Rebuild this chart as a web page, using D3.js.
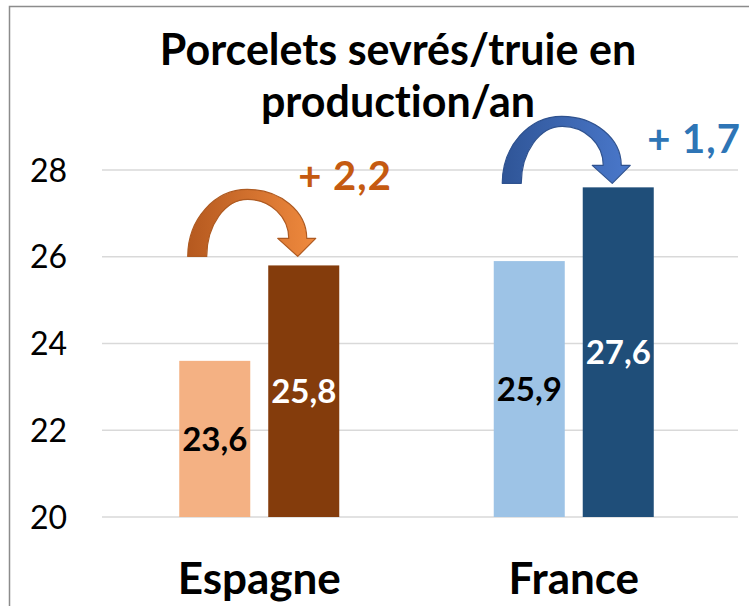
<!DOCTYPE html>
<html>
<head>
<meta charset="utf-8">
<script src="https://cdn.jsdelivr.net/npm/d3@7/dist/d3.min.js"></script>
<style>
  body { margin: 0; background: #fff; }
  text { font-family: Lato, "Open Sans", sans-serif; font-variant-ligatures: none; }
</style>
</head>
<body>
<div class="chart"></div>
<script>
var width = 749, height = 606;

/*  ======== Data ============= */
var countries = ['Espagne', 'France'];
var seriesKeys = ['avant', 'apres'];
var valuesBefore = [23.6, 25.9];
var valuesAfter = [25.8, 27.6];
var gains = ['+ 2,2', '+ 1,7'];
var yTicks = [20, 22, 24, 26, 28];
var titleLines = ['Porcelets sevrés/truie en', 'production/an'];
/*  ======== Data ============= */

var barColors = [['#F4B183', '#843C0C'], ['#9DC3E6', '#1F4E79']];
var labelColors = ['#000', '#fff'];
var gainColors = ['#C55A11', '#2E75B6'];
var arrowColors = [['#B5591F', '#F08A3E', '#AE5A21'], ['#2F5597', '#4A78CB', '#2F528F']];

var svg = d3.select('.chart').append('svg')
  .attr('width', width).attr('height', height);

svg.append('rect')
  .attr('x', 9.5).attr('y', 6.5)
  .attr('width', 780).attr('height', 640)
  .attr('fill', '#fff').attr('stroke', '#8c8c8c').attr('stroke-width', 1.5);

var plotLeft = 102, plotRight = 738;
var x = d3.scaleBand().domain(countries).range([102, 731]);
var xs = d3.scaleBand().domain(seriesKeys).range([0, x.bandwidth()]).paddingInner(0.202).paddingOuter(0.868);
var y = d3.scaleLinear().domain([20, 28]).range([517, 170]);

// title
svg.append('text')
  .attr('x', 398).attr('y', 65)
  .attr('text-anchor', 'middle')
  .attr('font-size', 43).attr('font-weight', 'bold').attr('fill', '#000')
  .selectAll('tspan').data(titleLines).enter().append('tspan')
  .attr('x', 398).attr('dy', function(d, i){ return i == 0 ? 0 : 52; })
  .text(function(d){ return d; });

// gridlines
svg.append('g').selectAll('line').data(yTicks).enter().append('line')
  .attr('x1', plotLeft).attr('x2', plotRight)
  .attr('y1', function(d){ return y(d); }).attr('y2', function(d){ return y(d); })
  .attr('stroke', '#d9d9d9').attr('stroke-width', 1.5);

// y axis labels
var yAxis = d3.axisLeft(y).tickValues(yTicks).tickSize(0).tickPadding(0).tickFormat(d3.format('d'));
var gy = svg.append('g').attr('transform', 'translate(67,0)').call(yAxis);
gy.select('.domain').remove();
gy.selectAll('text')
  .attr('font-size', 32).attr('fill', '#000')
  .attr('font-family', 'Lato, sans-serif').attr('dy', '0.35em');

// bars
var rows = countries.map(function(c, i){
  return { country: c, i: i, vals: [valuesBefore[i], valuesAfter[i]] };
});
var groups = svg.selectAll('g.country').data(rows).enter().append('g')
  .attr('class', 'country')
  .attr('transform', function(d){ return 'translate(' + x(d.country) + ',0)'; });

groups.selectAll('rect').data(function(d){
    return d.vals.map(function(v, j){ return { v: v, j: j, i: d.i }; });
  }).enter().append('rect')
  .attr('x', function(d){ return xs(seriesKeys[d.j]); })
  .attr('width', xs.bandwidth())
  .attr('y', function(d){ return y(d.v); })
  .attr('height', function(d){ return y(20) - y(d.v); })
  .attr('fill', function(d){ return barColors[d.i][d.j]; });

groups.selectAll('text.val').data(function(d){
    return d.vals.map(function(v, j){ return { v: v, j: j, i: d.i }; });
  }).enter().append('text')
  .attr('class', 'val')
  .attr('x', function(d){ return xs(seriesKeys[d.j]) + xs.bandwidth()/2; })
  .attr('y', function(d){ return (y(d.v) + y(20))/2 + 12; })
  .attr('text-anchor', 'middle')
  .attr('font-size', 33).attr('font-weight', 'bold')
  .attr('fill', function(d){ return labelColors[d.j]; })
  .text(function(d){ return d.v.toFixed(1).replace('.', ','); });

// category labels
svg.append('g').selectAll('text').data(countries).enter().append('text')
  .attr('x', function(d){ return x(d) + x.bandwidth()/2; })
  .attr('y', 594)
  .attr('text-anchor', 'middle')
  .attr('font-size', 44).attr('font-weight', 'bold').attr('fill', '#000')
  .text(function(d){ return d; });

// curved arrows
var defs = svg.append('defs');
rows.forEach(function(d){
  var g = defs.append('linearGradient').attr('id', 'arrowgrad' + d.i)
    .attr('x1', '0%').attr('x2', '100%').attr('y1', '0%').attr('y2', '0%');
  g.append('stop').attr('offset', '0%').attr('stop-color', arrowColors[d.i][0]);
  g.append('stop').attr('offset', '100%').attr('stop-color', arrowColors[d.i][1]);

  var x0 = x(d.country);
  var lightC = x0 + xs(seriesKeys[0]) + xs.bandwidth()/2;
  var darkC = x0 + xs(seriesKeys[1]) + xs.bandwidth()/2;
  var yb = y(d.vals[1]) - (d.i == 0 ? 9 : 4);
  var L = lightC - 27, w = 19;
  var tx = darkC - 6;
  var top = yb - 67, topi = top + 10;
  var yh = yb - 18;
  var R = tx + 9, Ri = tx - 9, Li = L + w;
  var mx = (L + R)/2, mi = (Li + Ri)/2;
  var k = 0.552;
  var p = 'M' + L + ',' + yb +
    ' C' + L + ',' + (yb - k*(yb-top)) + ' ' + (mx - k*(mx-L)) + ',' + top + ' ' + mx + ',' + top +
    ' C' + (mx + k*(R-mx)) + ',' + top + ' ' + R + ',' + (yh - k*(yh-top)) + ' ' + R + ',' + yh +
    ' L' + (tx + 18) + ',' + yh + ' L' + tx + ',' + yb + ' L' + (tx - 20) + ',' + yh + ' L' + Ri + ',' + yh +
    ' C' + Ri + ',' + (yh - k*(yh-topi)) + ' ' + (mi + k*(Ri-mi)) + ',' + topi + ' ' + mi + ',' + topi +
    ' C' + (mi - k*(mi-Li)) + ',' + topi + ' ' + Li + ',' + (yb - k*(yb-topi)) + ' ' + Li + ',' + yb + ' Z';
  svg.append('path')
    .attr('d', p)
    .attr('fill', 'url(#arrowgrad' + d.i + ')')
    .attr('stroke', arrowColors[d.i][2]).attr('stroke-width', 1.2)
    .attr('stroke-linejoin', 'round');
});

// gain annotations
var gainPos = [[345, 190], [694, 153]];
svg.append('g').selectAll('text').data(gains).enter().append('text')
  .attr('x', function(d, i){ return gainPos[i][0]; })
  .attr('y', function(d, i){ return gainPos[i][1]; })
  .attr('text-anchor', 'middle')
  .attr('font-size', 40).attr('font-weight', 'bold')
  .attr('letter-spacing', 1)
  .attr('fill', function(d, i){ return gainColors[i]; })
  .text(function(d){ return d; });
</script>
</body>
</html>
